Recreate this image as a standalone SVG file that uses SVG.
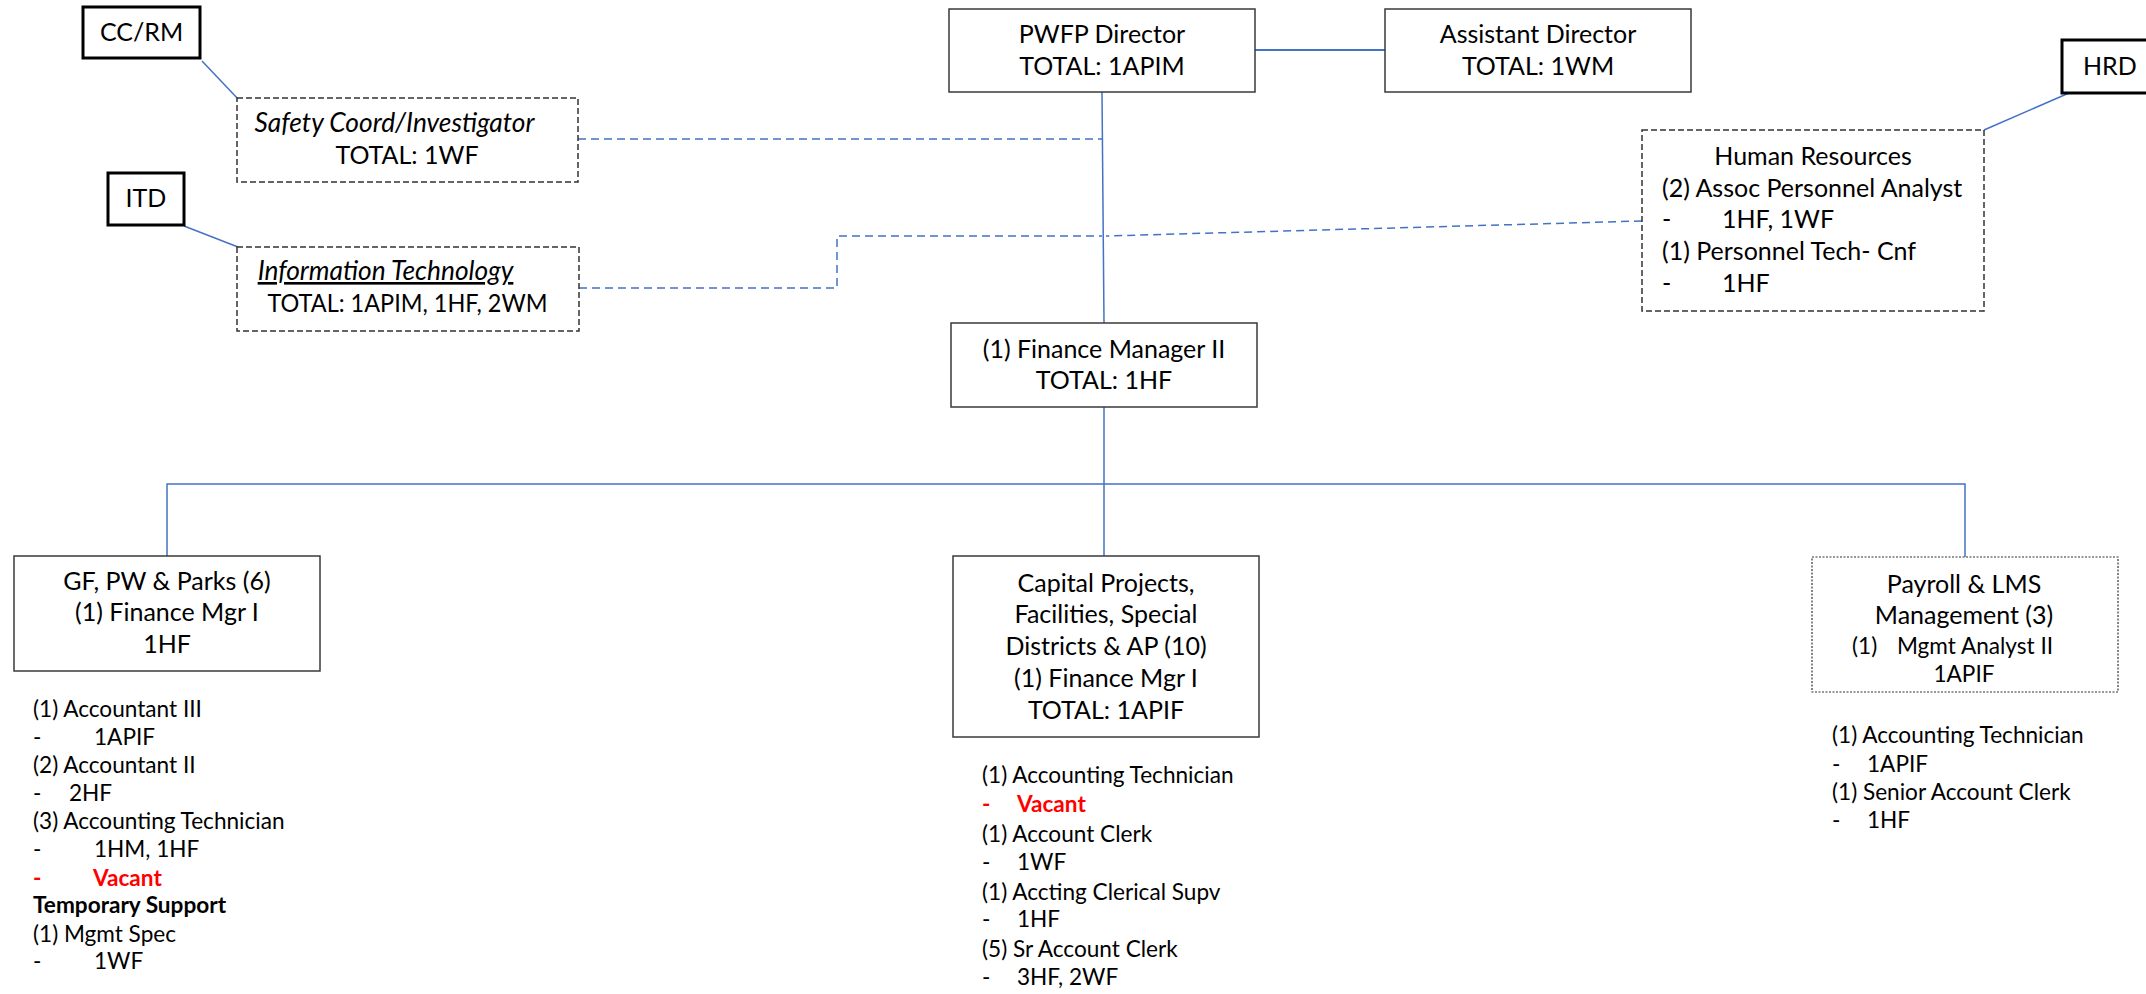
<svg xmlns="http://www.w3.org/2000/svg" width="2146" height="994" viewBox="0 0 2146 994">
  <style>
    text { font-family: Lato, "Open Sans", "Liberation Sans", sans-serif; fill: #000; }
    .t { font-size: 25px; }
    .s { font-size: 22.6px; }
    .c { text-anchor: middle; }
    .i { font-style: italic; font-size: 26.3px; }
    .u { text-decoration: underline; }
    .b { font-weight: bold; }
    .red { fill: #ff0000; font-weight: bold; }
    .box { fill: #fff; stroke: #3a3a3a; stroke-width: 1.5; }
    .ext { fill: #fff; stroke: #000; stroke-width: 3; }
    .dash { fill: #fff; stroke: #333; stroke-width: 1.5; stroke-dasharray: 6 3; }
    .dot { fill: #fff; stroke: #333; stroke-width: 1.2; stroke-dasharray: 2 1.5; }
    .ln { fill: none; stroke: #4472c4; stroke-width: 1.5; }
    .dl { fill: none; stroke: #4472c4; stroke-width: 1.5; stroke-dasharray: 8 5; }
  </style>

  <!-- connectors -->
  <g id="connectors">
    <line class="ln" x1="202" y1="61" x2="239" y2="100"/>
    <line class="ln" x1="184" y1="226" x2="238" y2="247"/>
    <line class="ln" x1="2069" y1="93" x2="1984" y2="130"/>
    <line class="ln" x1="1255" y1="50" x2="1385" y2="50" style="stroke-width:2"/>
    <line class="ln" x1="1102" y1="92" x2="1104" y2="323"/>
    <line class="dl" x1="578" y1="139" x2="1102" y2="139"/>
    <path class="dl" d="M579,288 H837 V236 H1102"/>
    <line class="dl" x1="1642" y1="221" x2="1106" y2="236"/>
    <line class="ln" x1="1104" y1="407" x2="1104" y2="556"/>
    <path class="ln" d="M167,556 V484 H1965 V557"/>
  </g>

  <!-- outside departments -->
  <g id="cc-rm">
    <rect class="ext" x="83" y="7" width="117" height="51"/>
    <text class="t c" x="141.5" y="41">CC/RM</text>
  </g>
  <g id="itd">
    <rect class="ext" x="108" y="173" width="76" height="52"/>
    <text class="t c" x="146" y="207">ITD</text>
  </g>
  <g id="hrd">
    <rect class="ext" x="2062" y="40" width="120" height="53"/>
    <text class="t" x="2083" y="75">HRD</text>
  </g>

  <!-- dotted-line units -->
  <g id="safety">
    <rect class="dash" x="237" y="98" width="341" height="84"/>
    <text class="c i" x="394.5" y="132">Safety Coord/Investigator</text>
    <text class="t c" x="407" y="164">TOTAL: 1WF</text>
  </g>
  <g id="info-tech">
    <rect class="dash" x="237" y="247" width="342" height="84"/>
    <text class="c i u" x="385.5" y="280">Information Technology</text>
    <text class="t c" x="407.5" y="312" textLength="280" lengthAdjust="spacingAndGlyphs">TOTAL: 1APIM, 1HF, 2WM</text>
  </g>
  <g id="human-resources">
    <rect class="dash" x="1642" y="130" width="342" height="181"/>
    <text class="t c" x="1813" y="165">Human Resources</text>
    <text class="t" x="1662" y="197">(2) Assoc Personnel Analyst</text>
    <text class="t" x="1662" y="228">-</text>
    <text class="t" x="1722" y="228">1HF, 1WF</text>
    <text class="t" x="1662" y="260">(1) Personnel Tech- Cnf</text>
    <text class="t" x="1662" y="292">-</text>
    <text class="t" x="1722" y="292">1HF</text>
  </g>

  <!-- main chain -->
  <g id="director">
    <rect class="box" x="949" y="9" width="306" height="83"/>
    <text class="t c" x="1102" y="43">PWFP Director</text>
    <text class="t c" x="1102" y="75">TOTAL: 1APIM</text>
  </g>
  <g id="assistant-director">
    <rect class="box" x="1385" y="9" width="306" height="83"/>
    <text class="t c" x="1538" y="43">Assistant Director</text>
    <text class="t c" x="1538" y="75">TOTAL: 1WM</text>
  </g>
  <g id="finance-manager">
    <rect class="box" x="951" y="323" width="306" height="84"/>
    <text class="t c" x="1104" y="358">(1) Finance Manager II</text>
    <text class="t c" x="1104" y="389">TOTAL: 1HF</text>
  </g>

  <!-- sections -->
  <g id="gf-pw-parks">
    <rect class="box" x="14" y="556" width="306" height="115"/>
    <text class="t c" x="167" y="590">GF, PW &amp; Parks (6)</text>
    <text class="t c" x="167" y="621">(1) Finance Mgr I</text>
    <text class="t c" x="167" y="653">1HF</text>
    <text class="s" x="33" y="717">(1) Accountant III</text>
    <text class="s" x="33" y="745">-</text><text class="s" x="94" y="745">1APIF</text>
    <text class="s" x="33" y="773">(2) Accountant II</text>
    <text class="s" x="33" y="801">-</text><text class="s" x="69" y="801">2HF</text>
    <text class="s" x="33" y="829">(3) Accounting Technician</text>
    <text class="s" x="33" y="857">-</text><text class="s" x="94" y="857">1HM, 1HF</text>
    <text class="s red" x="33" y="886">-</text><text class="s red" x="93" y="886">Vacant</text>
    <text class="s b" x="33" y="913">Temporary Support</text>
    <text class="s" x="33" y="942">(1) Mgmt Spec</text>
    <text class="s" x="33" y="969">-</text><text class="s" x="94" y="969">1WF</text>
  </g>

  <g id="capital-projects">
    <rect class="box" x="953" y="556" width="306" height="181"/>
    <text class="t c" x="1106" y="592">Capital Projects,</text>
    <text class="t c" x="1106" y="623">Facilities, Special</text>
    <text class="t c" x="1106" y="655">Districts &amp; AP (10)</text>
    <text class="t c" x="1106" y="687">(1) Finance Mgr I</text>
    <text class="t c" x="1106" y="719">TOTAL: 1APIF</text>
    <text class="s" x="982" y="783">(1) Accounting Technician</text>
    <text class="s red" x="982" y="812">-</text><text class="s red" x="1017" y="812">Vacant</text>
    <text class="s" x="982" y="842">(1) Account Clerk</text>
    <text class="s" x="982" y="870">-</text><text class="s" x="1017" y="870">1WF</text>
    <text class="s" x="982" y="900">(1) Accting Clerical Supv</text>
    <text class="s" x="982" y="927">-</text><text class="s" x="1017" y="927">1HF</text>
    <text class="s" x="982" y="957">(5) Sr Account Clerk</text>
    <text class="s" x="982" y="985">-</text><text class="s" x="1017" y="985">3HF, 2WF</text>
  </g>

  <g id="payroll-lms">
    <rect class="dot" x="1812" y="557" width="306" height="135"/>
    <text class="t c" x="1964" y="593">Payroll &amp; LMS</text>
    <text class="t c" x="1964" y="624">Management (3)</text>
    <text class="s" x="1852" y="654">(1)</text>
    <text class="s" x="1897" y="654">Mgmt Analyst II</text>
    <text class="s c" x="1964" y="682">1APIF</text>
    <text class="s" x="1832" y="743">(1) Accounting Technician</text>
    <text class="s" x="1832" y="772">-</text><text class="s" x="1867" y="772">1APIF</text>
    <text class="s" x="1832" y="800">(1) Senior Account Clerk</text>
    <text class="s" x="1832" y="828">-</text><text class="s" x="1867" y="828">1HF</text>
  </g>
</svg>
